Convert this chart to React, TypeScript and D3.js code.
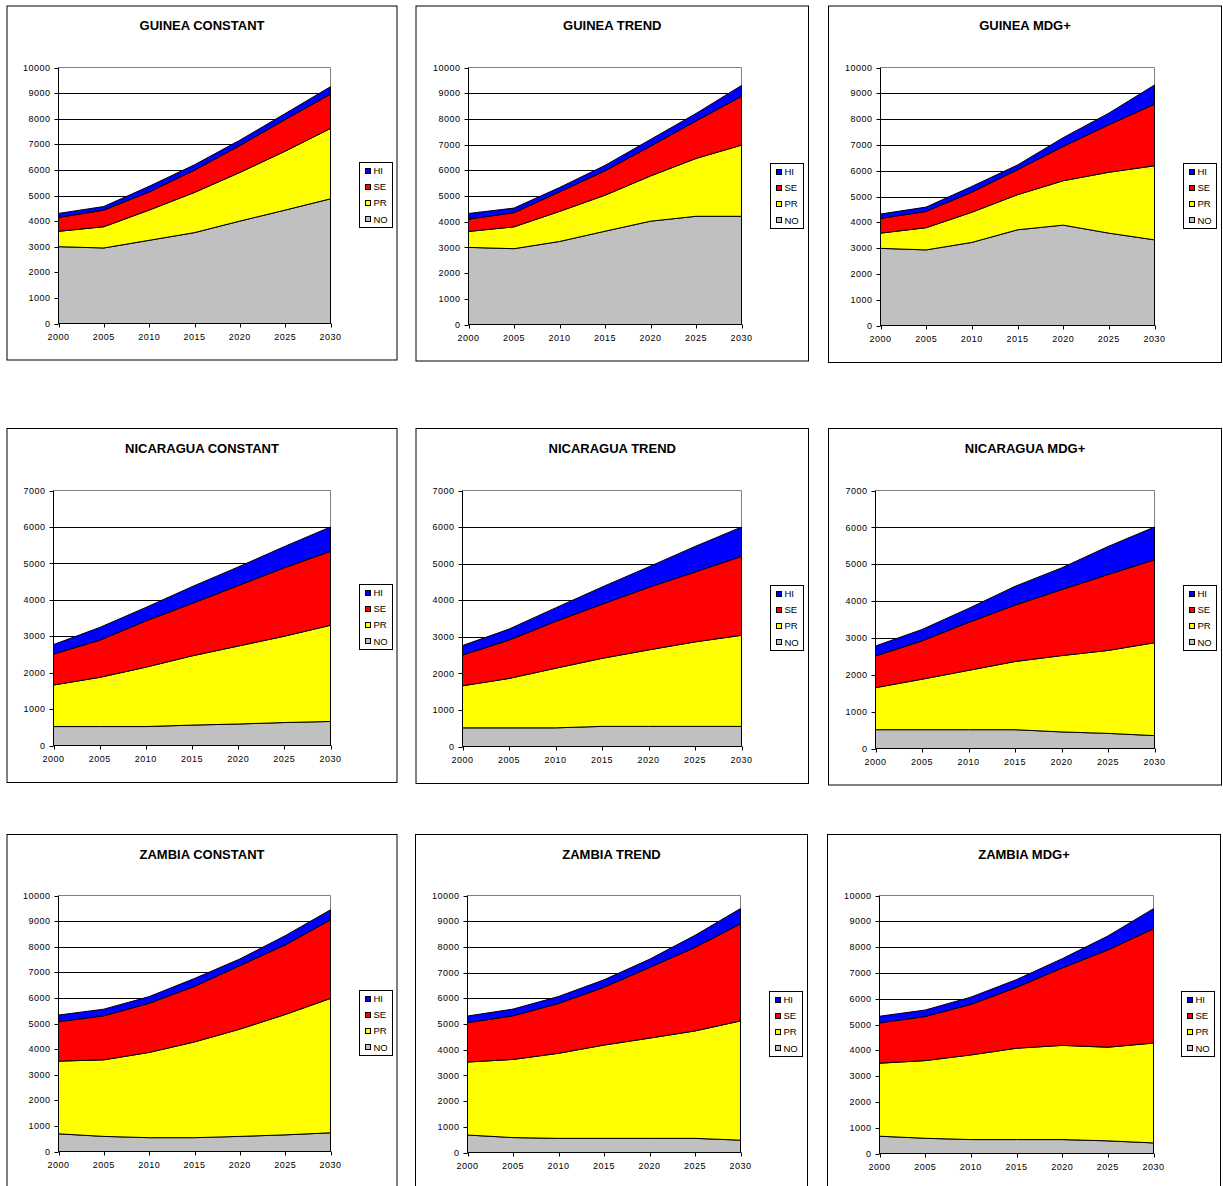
import React from 'react';
import * as d3 from 'd3';

// Years on the horizontal axis
const years = [2000, 2005, 2010, 2015, 2020, 2025, 2030];
// Stack order, bottom to top, and legend order, top to bottom
const layerKeys = ['NO', 'PR', 'SE', 'HI'];
const legendKeys = ['HI', 'SE', 'PR', 'NO'];
const layerColors: Record<string, string> = { NO: '#C0C0C0', PR: '#FFFF00', SE: '#FF0000', HI: '#0000FF' };

// Guinea
const guineaConstantNO = [3000, 2950, 3250, 3550, 4000, 4430, 4870];
const guineaConstantPR = [600, 830, 1180, 1570, 1900, 2300, 2750];
const guineaConstantSE = [540, 650, 710, 870, 1050, 1240, 1340];
const guineaConstantHI = [160, 140, 220, 210, 210, 230, 290];

const guineaTrendNO = [3000, 2950, 3230, 3630, 4020, 4210, 4210];
const guineaTrendPR = [620, 850, 1170, 1400, 1760, 2250, 2770];
const guineaTrendSE = [480, 550, 760, 950, 1160, 1460, 1900];
const guineaTrendHI = [220, 180, 170, 210, 260, 290, 420];

const guineaMdgNO = [2990, 2930, 3220, 3710, 3890, 3580, 3320];
const guineaMdgPR = [590, 860, 1170, 1360, 1720, 2360, 2870];
const guineaMdgSE = [570, 630, 780, 970, 1330, 1840, 2390];
const guineaMdgHI = [170, 170, 220, 180, 340, 450, 740];

// Nicaragua
const nicaraguaConstantNO = [520, 520, 520, 560, 590, 630, 660];
const nicaraguaConstantPR = [1140, 1350, 1630, 1900, 2140, 2370, 2640];
const nicaraguaConstantSE = [850, 1020, 1270, 1440, 1660, 1880, 2030];
const nicaraguaConstantHI = [260, 350, 370, 460, 510, 580, 670];

const nicaraguaTrendNO = [510, 510, 510, 550, 550, 550, 550];
const nicaraguaTrendPR = [1150, 1350, 1630, 1860, 2090, 2310, 2490];
const nicaraguaTrendSE = [840, 1050, 1280, 1480, 1710, 1910, 2160];
const nicaraguaTrendHI = [260, 300, 370, 470, 560, 700, 800];

const nicaraguaMdgNO = [510, 510, 510, 510, 450, 410, 350];
const nicaraguaMdgPR = [1140, 1370, 1610, 1850, 2070, 2250, 2520];
const nicaraguaMdgSE = [860, 1040, 1300, 1530, 1790, 2060, 2250];
const nicaraguaMdgHI = [270, 310, 380, 510, 590, 760, 890];

// Zambia
const zambiaConstantNO = [690, 590, 540, 540, 590, 650, 730];
const zambiaConstantPR = [2840, 2990, 3330, 3740, 4190, 4700, 5250];
const zambiaConstantSE = [1540, 1720, 1920, 2170, 2480, 2720, 3070];
const zambiaConstantHI = [260, 260, 260, 310, 260, 360, 390];

const zambiaTrendNO = [680, 580, 550, 550, 550, 550, 480];
const zambiaTrendPR = [2840, 3040, 3310, 3630, 3900, 4180, 4640];
const zambiaTrendSE = [1530, 1700, 1940, 2250, 2750, 3250, 3780];
const zambiaTrendHI = [260, 260, 270, 290, 320, 470, 590];

const zambiaMdgNO = [670, 590, 540, 540, 540, 490, 410];
const zambiaMdgPR = [2830, 3010, 3280, 3540, 3650, 3630, 3870];
const zambiaMdgSE = [1560, 1710, 1960, 2360, 3000, 3770, 4430];
const zambiaMdgHI = [260, 250, 280, 300, 360, 540, 780];

const panelTitles = [
  'GUINEA CONSTANT', 'GUINEA TREND', 'GUINEA MDG+',
  'NICARAGUA CONSTANT', 'NICARAGUA TREND', 'NICARAGUA MDG+',
  'ZAMBIA CONSTANT', 'ZAMBIA TREND', 'ZAMBIA MDG+',
];
const panelMax = [10000, 10000, 10000, 7000, 7000, 7000, 10000, 10000, 10000];

const panelSeries = [
  { NO: guineaConstantNO, PR: guineaConstantPR, SE: guineaConstantSE, HI: guineaConstantHI },
  { NO: guineaTrendNO, PR: guineaTrendPR, SE: guineaTrendSE, HI: guineaTrendHI },
  { NO: guineaMdgNO, PR: guineaMdgPR, SE: guineaMdgSE, HI: guineaMdgHI },
  { NO: nicaraguaConstantNO, PR: nicaraguaConstantPR, SE: nicaraguaConstantSE, HI: nicaraguaConstantHI },
  { NO: nicaraguaTrendNO, PR: nicaraguaTrendPR, SE: nicaraguaTrendSE, HI: nicaraguaTrendHI },
  { NO: nicaraguaMdgNO, PR: nicaraguaMdgPR, SE: nicaraguaMdgSE, HI: nicaraguaMdgHI },
  { NO: zambiaConstantNO, PR: zambiaConstantPR, SE: zambiaConstantSE, HI: zambiaConstantHI },
  { NO: zambiaTrendNO, PR: zambiaTrendPR, SE: zambiaTrendSE, HI: zambiaTrendHI },
  { NO: zambiaMdgNO, PR: zambiaMdgPR, SE: zambiaMdgSE, HI: zambiaMdgHI },
];

// Panel geometry: outer frame, plot area and legend box [x0, y0, x1, y1]
const panelLayout = [
  { frame: [7, 6, 397, 360], plot: [58.5, 67.5, 330.5, 323.5], legend: [359.5, 162.5, 392.5, 227.5] },
  { frame: [416, 6, 808.5, 361], plot: [468.5, 67.5, 741.5, 324.5], legend: [770.5, 163.5, 803.5, 228.5] },
  { frame: [828.5, 6, 1221.5, 362.5], plot: [880.5, 67.5, 1154.5, 325.5], legend: [1183.5, 163.5, 1216.5, 228.5] },
  { frame: [7, 428.5, 397, 782.5], plot: [53.5, 490.5, 330.5, 745.5], legend: [359.5, 584.5, 392.5, 649.5] },
  { frame: [416, 428.5, 808.5, 783.5], plot: [462.5, 490.5, 741.5, 746.5], legend: [770.5, 585.5, 803.5, 650.5] },
  { frame: [828.5, 428.5, 1221.5, 785], plot: [875.5, 490.5, 1154.5, 748.5], legend: [1183.5, 585.5, 1216.5, 650.5] },
  { frame: [7, 834.5, 397, 1200], plot: [58.5, 895.5, 330.5, 1151.5], legend: [359.5, 990.5, 392.5, 1055.5] },
  { frame: [415.5, 834.5, 807.5, 1200], plot: [467.5, 895.5, 740.5, 1152.5], legend: [769.5, 991.5, 802.5, 1056.5] },
  { frame: [827.5, 834.5, 1220.5, 1200], plot: [879.5, 895.5, 1153.5, 1153.5], legend: [1181.5, 991.5, 1214.5, 1056.5] },
];

const FONT = "Arial, 'Liberation Sans', Helvetica, sans-serif";

type Row = { year: number; [k: string]: number };

function Panel({ index }: { index: number }) {
  const { frame, plot, legend } = panelLayout[index];
  const series = panelSeries[index] as Record<string, number[]>;
  const yMax = panelMax[index];
  const title = panelTitles[index];

  const x = d3.scaleLinear().domain([years[0], years[years.length - 1]]).range([plot[0], plot[2]]);
  const y = d3.scaleLinear().domain([0, yMax]).range([plot[3], plot[1]]);

  const rows: Row[] = years.map((yr, i) => {
    const r: Row = { year: yr };
    layerKeys.forEach((k) => { r[k] = series[k][i]; });
    return r;
  });
  const stacked = d3.stack<Row>().keys(layerKeys)(rows);
  const area = d3.area<d3.SeriesPoint<Row>>()
    .x((d) => x(d.data.year))
    .y0((d) => y(d[0]))
    .y1((d) => y(d[1]));

  const yTicks = d3.range(0, yMax + 1, 1000);
  const frameCx = (frame[0] + frame[2]) / 2;
  const legendH = legend[3] - legend[1];
  const rowGap = legendH / 4;

  return (
    <g>
      <rect x={frame[0]} y={frame[1]} width={frame[2] - frame[0]} height={frame[3] - frame[1]}
        fill="#fff" stroke="#000" strokeWidth={1} />
      <text x={frameCx} y={frame[1] + 24} textAnchor="middle" fontFamily={FONT} fontWeight="bold"
        fontSize={13} fill="#000">{title}</text>

      {/* gridlines */}
      {yTicks.filter((t) => t > 0 && t < yMax).map((t) => (
        <line key={t} x1={plot[0]} x2={plot[2]} y1={Math.round(y(t)) + 0.5} y2={Math.round(y(t)) + 0.5}
          stroke="#000" strokeWidth={1} />
      ))}
      {/* plot border, top and right */}
      <polyline points={`${plot[0]},${plot[1]} ${plot[2]},${plot[1]} ${plot[2]},${plot[3]}`}
        fill="none" stroke="#808080" strokeWidth={1} />

      {/* stacked areas */}
      {stacked.map((s) => (
        <path key={s.key} d={area(s) || ''} fill={layerColors[s.key]} stroke="#000" strokeWidth={1}
          strokeLinejoin="round" />
      ))}

      {/* axes */}
      <line x1={plot[0]} x2={plot[0]} y1={plot[1]} y2={plot[3]} stroke="#000" strokeWidth={1} />
      <line x1={plot[0]} x2={plot[2]} y1={plot[3]} y2={plot[3]} stroke="#000" strokeWidth={1} />
      {yTicks.map((t) => (
        <g key={t}>
          <line x1={plot[0] - 4} x2={plot[0]} y1={Math.round(y(t)) + 0.5} y2={Math.round(y(t)) + 0.5}
            stroke="#000" strokeWidth={1} />
          <text x={plot[0] - 8} y={y(t)} dy="0.35em" textAnchor="end" fontFamily={FONT} fontSize={9}
            letterSpacing={0.5} fill="#000">{t}</text>
        </g>
      ))}
      {years.map((yr) => (
        <g key={yr}>
          <line x1={Math.round(x(yr)) + 0.5} x2={Math.round(x(yr)) + 0.5} y1={plot[3]} y2={plot[3] + 4}
            stroke="#000" strokeWidth={1} />
          <text x={x(yr)} y={plot[3] + 16.5} textAnchor="middle" fontFamily={FONT} fontSize={9}
            letterSpacing={0.5} fill="#000">{yr}</text>
        </g>
      ))}

      {/* legend */}
      <rect x={legend[0]} y={legend[1]} width={legend[2] - legend[0]} height={legendH}
        fill="#fff" stroke="#000" strokeWidth={1} />
      {legendKeys.map((k, i) => {
        const cy = legend[1] + rowGap * (i + 0.5);
        return (
          <g key={k}>
            <rect x={legend[0] + 6} y={Math.round(cy - 3) + 0.5} width={5} height={5}
              fill={layerColors[k]} stroke="#000" strokeWidth={1} />
            <text x={legend[0] + 14} y={cy} dy="0.35em" fontFamily={FONT} fontSize={9.5} fill="#000">{k}</text>
          </g>
        );
      })}
    </g>
  );
}

export default function App() {
  return (
    <svg width={1223} height={1186} viewBox="0 0 1223 1186"
      style={{ position: 'absolute', left: 0, top: 0, background: '#fff' }}>
      <rect x={0} y={0} width={1223} height={1186} fill="#fff" />
      {panelTitles.map((_, i) => <Panel key={i} index={i} />)}
    </svg>
  );
}
